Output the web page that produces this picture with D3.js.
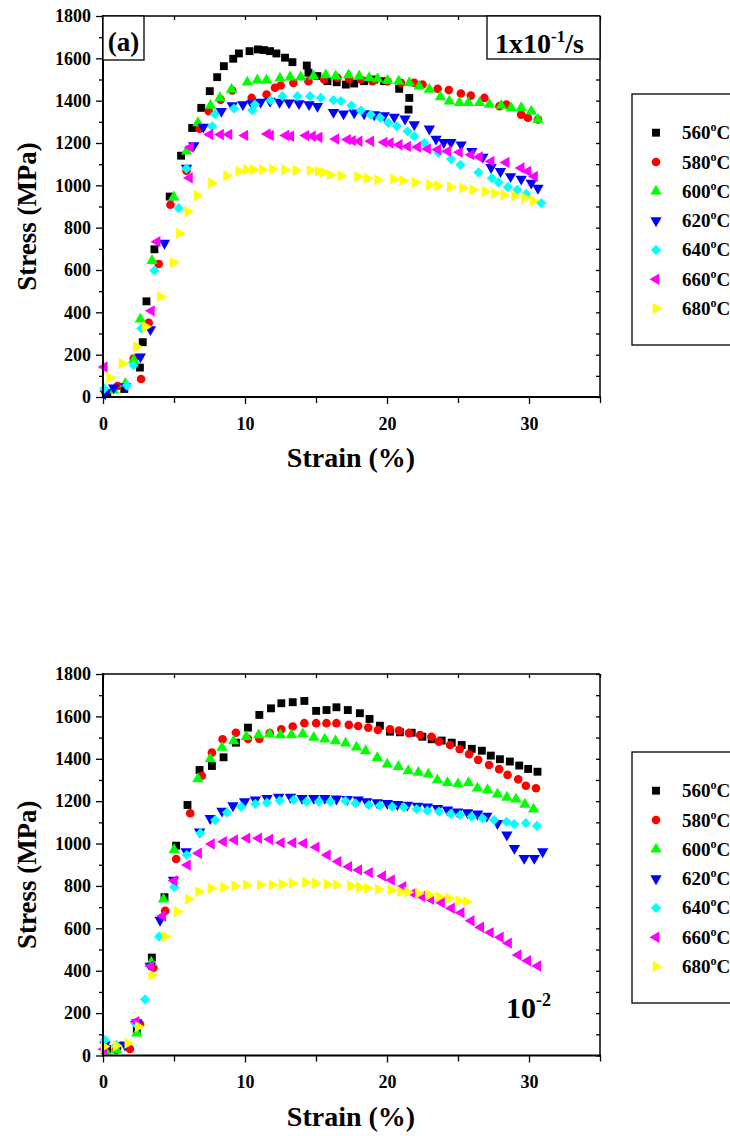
<!DOCTYPE html>
<html>
<head>
<meta charset="utf-8">
<script src="https://cdn.jsdelivr.net/npm/d3@7"></script>
<style>
  body { margin: 0; background: #fff; }
  svg { display: block; }
</style>
</head>
<body>
<svg id="chart" width="730" height="1136"></svg>
<script>
// series labels, colours and marker shapes
var temps  = ['560', '580', '600', '620', '640', '660', '680'];
var colors = ['#000000', '#ff0000', '#00ff00', '#0000ff', '#00ffff', '#ff00ff', '#ffff00'];
var shapes = ['square', 'circle', 'up', 'down', 'diamond', 'left', 'right'];

var xTicks = [0, 10, 20, 30];
var yTicks = [0, 200, 400, 600, 800, 1000, 1200, 1400, 1600, 1800];

// (a) 1x10^-1/s  -- [strain %, stress MPa]
var a560 = [[0.3,20],[1.5,38],[2.6,139],[2.8,259],[3.06,452],[3.62,698],[4.7,947],[5.5,1140],[6.28,1271],[6.92,1366],[7.52,1445],[8.04,1511],[8.51,1563],[9.17,1598],[9.57,1623],[10.32,1634],[10.91,1642],[11.33,1639],[11.76,1634],[12.21,1623],[12.82,1603],[13.34,1582],[14.35,1566],[14.47,1532],[15.1,1516],[15.81,1492],[16.46,1487],[17.1,1476],[17.69,1481],[18.39,1492],[19.1,1500],[19.8,1492],[20.86,1456],[21.57,1413],[21.52,1358]];
var a580 = [[1.03,52],[2.16,182],[2.68,85],[3.22,351],[3.93,628],[4.75,908],[5.88,1069],[6.8,1267],[7.45,1350],[8.28,1405],[9.1,1448],[10.47,1413],[11.52,1429],[12.11,1461],[12.51,1472],[13.41,1484],[14.47,1492],[15.57,1500],[16.51,1508],[17.33,1503],[18.16,1500],[18.98,1492],[20.04,1492],[20.98,1484],[21.92,1484],[22.5,1476],[23.57,1456],[24.35,1450],[25.2,1434],[25.9,1424],[26.86,1413],[27.92,1374],[28.4,1382],[29.45,1334],[29.92,1319],[30.63,1311]];
var a600 = [[0.75,32],[1.57,63],[2.16,174],[2.63,367],[3.45,644],[4.98,944],[5.88,1161],[6.68,1295],[7.57,1377],[8.23,1413],[9.05,1453],[10.16,1487],[10.87,1497],[11.52,1497],[12.46,1506],[13.17,1511],[13.92,1511],[14.82,1516],[15.69,1521],[16.39,1516],[17.29,1521],[18.04,1516],[18.75,1508],[19.34,1503],[20.04,1495],[20.82,1492],[21.57,1484],[22.27,1468],[22.98,1453],[23.76,1418],[24.39,1397],[25.1,1390],[25.73,1390],[26.51,1390],[27.21,1382],[28.04,1377],[28.74,1366],[29.45,1366],[30.16,1350],[30.63,1311]];
var a620 = [[0.16,16],[0.75,44],[1.6,50],[2.63,190],[3.34,319],[4.33,727],[5.88,1082],[6.39,1188],[7.06,1276],[8.33,1350],[9.1,1377],[9.85,1382],[10.47,1387],[11.1,1393],[11.76,1398],[12.44,1393],[13.1,1390],[13.8,1387],[14.51,1382],[15.1,1374],[16.23,1345],[16.94,1338],[17.69,1343],[18.39,1339],[19.1,1334],[19.8,1330],[20.51,1323],[21.27,1314],[21.92,1287],[22.98,1267],[23.45,1219],[24.0,1203],[24.5,1203],[25.22,1192],[25.97,1161],[26.75,1134],[27.33,1085],[27.99,1066],[28.7,1042],[29.45,1030],[30.16,1011],[30.63,987]];
var a640 = [[0.09,40],[1.69,54],[2.16,150],[2.7,324],[3.62,597],[5.34,892],[5.88,1079],[7.69,1279],[7.88,1336],[9.22,1363],[10.51,1355],[10.7,1382],[11.8,1402],[12.63,1421],[13.69,1421],[14.58,1421],[15.34,1413],[16.23,1402],[16.75,1398],[17.5,1377],[18.16,1353],[18.86,1334],[19.52,1319],[20.09,1295],[20.7,1279],[21.45,1255],[21.92,1232],[22.63,1200],[23.62,1153],[24.51,1124],[25.17,1097],[26.44,1061],[27.38,1034],[27.85,1014],[28.51,992],[29.17,979],[29.8,960],[30.86,916]];
var a660 = [[0.09,142],[3.41,407],[3.81,734],[6.09,1035],[6.16,1180],[7.52,1240],[8.28,1240],[8.87,1240],[9.99,1236],[11.57,1243],[11.8,1236],[12.87,1236],[13.22,1232],[14.28,1235],[14.75,1232],[15.22,1227],[16.39,1219],[17.22,1216],[17.57,1211],[18.04,1208],[18.86,1208],[19.8,1203],[20.23,1200],[20.86,1192],[21.45,1184],[22.16,1181],[22.86,1172],[23.57,1169],[24.28,1161],[25.1,1156],[25.92,1145],[26.51,1134],[27.33,1113],[28.39,1108],[29.45,1082],[29.92,1066],[30.39,1042]];
var a680 = [[0.47,92],[1.34,158],[2.35,237],[2.99,332],[4.04,474],[4.94,635],[5.38,774],[5.97,876],[6.63,952],[7.64,1011],[8.7,1045],[9.57,1066],[10.11,1074],[10.58,1074],[11.22,1074],[11.93,1077],[12.79,1074],[13.57,1071],[14.58,1071],[15.15,1066],[15.53,1061],[16.0,1050],[16.75,1045],[17.93,1042],[18.58,1034],[19.34,1026],[20.46,1030],[21.1,1023],[21.97,1014],[22.98,1003],[23.57,998],[24.46,992],[25.33,987],[26.04,979],[26.91,971],[27.57,963],[28.23,955],[28.98,950],[29.68,940],[30.28,927]];

// (b) 10^-2
var b560 = [[0.3,30],[1.0,45],[2.38,117],[3.44,462],[4.33,747],[5.15,990],[5.95,1182],[6.8,1347],[7.67,1366],[8.49,1407],[9.36,1476],[10.21,1547],[11.01,1607],[11.83,1638],[12.56,1662],[13.36,1667],[14.18,1673],[15.01,1626],[15.74,1630],[16.44,1643],[17.24,1630],[18.09,1615],[18.77,1588],[19.5,1556],[20.21,1528],[20.91,1525],[21.74,1523],[22.49,1504],[23.15,1492],[23.85,1486],[24.56,1476],[25.26,1465],[25.97,1447],[26.68,1438],[27.31,1415],[27.95,1398],[28.65,1387],[29.31,1368],[29.94,1352],[30.6,1339]];
var b580 = [[0.9,26],[1.9,31],[2.61,147],[3.55,414],[4.38,683],[5.15,927],[6.14,1143],[6.96,1320],[7.67,1429],[8.42,1492],[9.36,1523],[10.21,1494],[11.01,1494],[11.74,1521],[12.56,1539],[13.36,1552],[14.18,1568],[15.01,1568],[15.74,1568],[16.44,1568],[17.31,1560],[17.97,1555],[18.68,1547],[19.36,1536],[20.21,1539],[20.84,1533],[21.55,1521],[22.33,1512],[23.13,1504],[23.66,1481],[24.44,1465],[25.12,1445],[25.78,1421],[26.42,1395],[27.19,1371],[27.9,1351],[28.49,1324],[29.24,1303],[29.78,1273],[30.49,1261]];
var b600 = [[0.2,20],[0.96,26],[2.38,105],[3.4,440],[4.26,737],[5.01,970],[6.68,1305],[7.55,1399],[8.38,1453],[9.2,1484],[10.09,1504],[10.96,1512],[11.74,1517],[12.49,1512],[13.27,1512],[14.07,1517],[14.84,1500],[15.62,1492],[16.37,1484],[17.08,1473],[17.85,1454],[18.49,1437],[19.31,1405],[20.02,1374],[20.8,1363],[21.5,1343],[22.21,1335],[22.91,1327],[23.55,1300],[24.26,1287],[25.0,1281],[25.74,1287],[26.37,1261],[27.08,1253],[27.78,1233],[28.44,1218],[29.08,1209],[29.71,1185],[30.32,1162]];
var b620 = [[0.14,50],[1.55,50],[2.38,155],[3.32,422],[4.02,639],[4.96,828],[5.86,962],[6.8,1056],[7.55,1119],[8.38,1154],[9.15,1179],[9.97,1198],[10.73,1206],[11.55,1214],[12.37,1219],[13.2,1219],[14.02,1214],[14.84,1214],[15.62,1214],[16.44,1211],[17.2,1209],[17.97,1206],[18.56,1198],[19.31,1193],[20.02,1190],[20.73,1185],[21.43,1182],[22.14,1177],[22.84,1174],[23.55,1167],[24.26,1159],[24.96,1150],[25.67,1146],[26.37,1140],[27.03,1130],[27.78,1096],[28.44,1041],[28.97,978],[29.66,931],[30.37,931],[30.96,962]];
var b640 = [[0.14,73],[0.92,50],[2.26,152],[2.96,265],[3.95,561],[5.01,794],[5.9,946],[6.85,1049],[7.9,1111],[8.73,1146],[9.74,1174],[10.73,1187],[11.55,1193],[12.44,1203],[13.43,1206],[14.33,1198],[15.2,1198],[16.02,1198],[17.08,1201],[17.78,1190],[18.72,1182],[19.5,1179],[20.37,1174],[21.19,1171],[22.09,1162],[22.84,1155],[23.66,1151],[24.49,1140],[25.15,1135],[25.95,1127],[26.73,1119],[27.54,1111],[28.42,1103],[28.96,1092],[29.78,1096],[30.56,1083]];
var b660 = [[0.07,29],[2.33,160],[3.37,422],[4.21,658],[5.01,825],[5.95,899],[6.73,954],[7.64,998],[8.49,1009],[9.27,1017],[10.14,1025],[10.96,1025],[11.74,1020],[12.56,1004],[13.38,1004],[14.14,1001],[15.01,983],[15.8,946],[16.56,915],[17.31,891],[18.01,875],[18.77,863],[19.7,847],[20.32,828],[21.13,797],[21.83,765],[22.46,750],[23.09,737],[23.84,721],[24.54,695],[25.22,674],[25.93,636],[26.6,605],[27.28,580],[27.98,558],[28.56,530],[29.24,474],[29.91,447],[30.62,422]];
var b680 = [[0.07,42],[0.92,46],[1.74,58],[2.49,136],[3.44,380],[4.38,561],[5.24,679],[6.02,737],[6.73,773],[7.6,789],[8.49,794],[9.27,800],[10.09,805],[11.08,805],[11.91,805],[12.61,808],[13.32,813],[14.26,817],[14.96,813],[15.78,808],[16.44,805],[17.43,800],[18.06,794],[18.62,789],[19.39,784],[20.28,781],[20.95,773],[21.45,770],[22.21,765],[22.96,757],[23.66,749],[24.34,742],[25.05,730],[25.6,726]];

var seriesA = [a560, a580, a600, a620, a640, a660, a680];
var seriesB = [b560, b580, b600, b620, b640, b660, b680];

var FONT = '"Liberation Serif", "Times New Roman", serif';
var svg = d3.select('#chart');

function markerPath(shape) {
  if (shape == 'square') return { d: d3.symbol().type(d3.symbolSquare).size(62)(), rot: 0 };
  if (shape == 'circle') return { d: d3.symbol().type(d3.symbolCircle).size(58)(), rot: 0 };
  if (shape == 'diamond') return { d: d3.symbol().type(d3.symbolSquare).size(52)(), rot: 45 };
  var rot = { up: 0, down: 180, left: -90, right: 90 }[shape];
  return { d: d3.symbol().type(d3.symbolTriangle).size(56)(), rot: rot };
}

/*
  ONE PANEL: axes, frame, markers
*/
function drawPanel(top, bottom, series) {
  var x = d3.scaleLinear().domain([0, 35]).range([103, 600]);
  var y = d3.scaleLinear().domain([0, 1800]).range([bottom, top]);
  var g = svg.append('g');

  // markers, drawn in legend order so later series sit on top
  series.forEach(function (pts, i) {
    var m = markerPath(shapes[i]);
    g.append('g').selectAll('path')
      .data(pts)
      .enter().append('path')
        .attr('d', m.d)
        .attr('transform', function (d) {
          return 'translate(' + x(d[0]) + ',' + y(d[1]) + ') rotate(' + m.rot + ')';
        })
        .style('fill', colors[i]);
  });

  // left axis: labelled majors + minors
  var left = g.append('g').attr('transform', 'translate(103,0)')
    .call(d3.axisLeft(y).tickValues(yTicks).tickSize(7).tickPadding(5)
      .tickFormat(d3.format('d')).tickSizeOuter(0));
  g.append('g').attr('transform', 'translate(103,0)')
    .call(d3.axisLeft(y).tickValues(d3.range(100, 1800, 200)).tickSize(4).tickFormat(''));
  // right axis, inward ticks
  g.append('g').attr('transform', 'translate(600,0)')
    .call(d3.axisLeft(y).tickValues(d3.range(0, 1900, 100)).tickSize(4).tickFormat(''));

  // bottom axis
  var bot = g.append('g').attr('transform', 'translate(0,' + bottom + ')')
    .call(d3.axisBottom(x).tickValues(xTicks).tickSize(7).tickPadding(13)
      .tickFormat(d3.format('d')).tickSizeOuter(0));
  g.append('g').attr('transform', 'translate(0,' + bottom + ')')
    .call(d3.axisBottom(x).tickValues([5, 15, 25, 35]).tickSize(6).tickFormat(''));
  // top axis, inward ticks
  g.append('g').attr('transform', 'translate(0,' + top + ')')
    .call(d3.axisBottom(x).tickValues(d3.range(0, 40, 5)).tickSize(4).tickFormat(''));

  g.selectAll('.domain').remove();
  g.selectAll('.tick line').style('stroke', '#000').style('stroke-width', 1.3);
  [left, bot].forEach(function (ax) {
    ax.selectAll('text')
      .style('font-family', FONT).style('font-size', '18px')
      .style('font-weight', 'bold').style('fill', '#000');
  });

  // frame
  g.append('line').attr('x1', 103).attr('x2', 600).attr('y1', top).attr('y2', top)
    .style('stroke', '#000').style('stroke-width', 1.5);
  g.append('line').attr('x1', 600).attr('x2', 600).attr('y1', top).attr('y2', bottom)
    .style('stroke', '#000').style('stroke-width', 1.5);
  g.append('line').attr('x1', 103).attr('x2', 103).attr('y1', top - 1).attr('y2', bottom + 1)
    .style('stroke', '#000').style('stroke-width', 2);
  g.append('line').attr('x1', 102).attr('x2', 601).attr('y1', bottom).attr('y2', bottom)
    .style('stroke', '#000').style('stroke-width', 2);

  // axis titles
  g.append('text')
    .text('Strain (%)')
    .attr('x', 351).attr('y', bottom + 70)
    .attr('text-anchor', 'middle')
    .style('font-family', FONT).style('font-size', '28px').style('font-weight', 'bold');
  g.append('text')
    .text('Stress (MPa)')
    .attr('transform', 'translate(36,' + ((top + bottom) / 2 + 10) + ') rotate(-90)')
    .attr('text-anchor', 'middle')
    .style('font-family', FONT).style('font-size', '27px').style('font-weight', 'bold');

  return g;
}

/*
  LEGEND BOX
*/
function drawLegend(boxTop, firstRow) {
  var g = svg.append('g');
  g.append('rect')
    .attr('x', 632).attr('y', boxTop).attr('width', 160).attr('height', 251)
    .style('fill', 'none').style('stroke', '#000').style('stroke-width', 1.3);
  temps.forEach(function (t, i) {
    var cy = firstRow + i * 29.3;
    var m = markerPath(shapes[i]);
    g.append('path')
      .attr('d', m.d)
      .attr('transform', 'translate(656,' + cy + ') rotate(' + m.rot + ')')
      .style('fill', colors[i]);
    var txt = g.append('text')
      .attr('x', 682).attr('y', cy + 6.5)
      .style('font-family', FONT).style('font-size', '19px').style('font-weight', 'bold');
    txt.append('tspan').text(t);
    txt.append('tspan').text('o').attr('dy', -8).style('font-size', '12px');
    txt.append('tspan').text('C').attr('dy', 8);
  });
}

// (a) top panel
var pa = drawPanel(16, 397, seriesA);
pa.append('rect').attr('x', 103).attr('y', 16).attr('width', 41).attr('height', 44)
  .style('fill', '#fff').style('stroke', '#000').style('stroke-width', 1.3);
pa.append('text').text('(a)')
  .attr('x', 123.5).attr('y', 51).attr('text-anchor', 'middle')
  .style('font-family', FONT).style('font-size', '27px').style('font-weight', 'bold');
pa.append('rect').attr('x', 487).attr('y', 16).attr('width', 113).attr('height', 43)
  .style('fill', '#fff').style('stroke', '#000').style('stroke-width', 1.3);
var rate = pa.append('text')
  .attr('x', 495).attr('y', 53)
  .style('font-family', FONT).style('font-size', '28px').style('font-weight', 'bold');
rate.append('tspan').text('1x10');
rate.append('tspan').text('-1').attr('dy', -11).style('font-size', '17px');
rate.append('tspan').text('/s').attr('dy', 11);
drawLegend(94, 132.7);

// (b) bottom panel
var pb = drawPanel(674, 1055.5, seriesB);
var rateB = pb.append('text')
  .attr('x', 506).attr('y', 1018)
  .style('font-family', FONT).style('font-size', '30px').style('font-weight', 'bold');
rateB.append('tspan').text('10');
rateB.append('tspan').text('-2').attr('dy', -12).style('font-size', '18px');
drawLegend(752, 790.7);
</script>
</body>
</html>
